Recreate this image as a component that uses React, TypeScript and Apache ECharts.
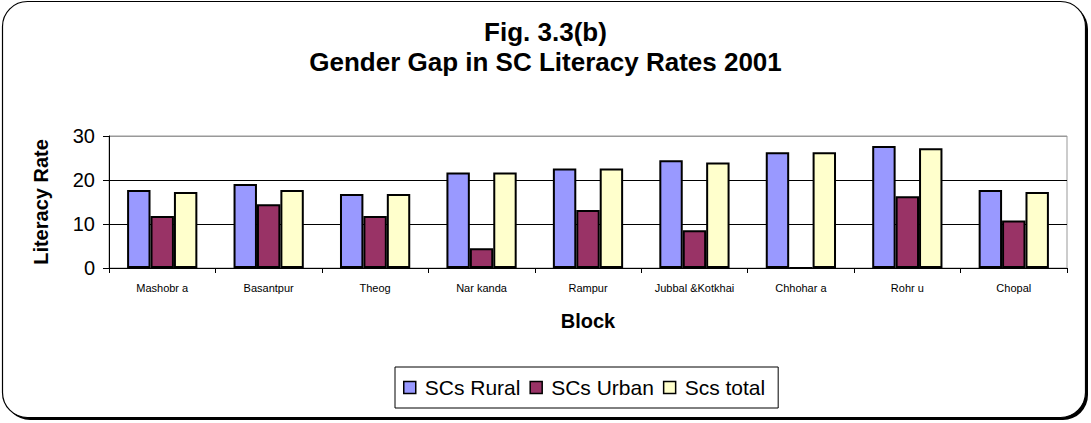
import React, { useEffect, useRef } from "react";
import * as echarts from "echarts";

const categories = [
  "Mashobr a",
  "Basantpur",
  "Theog",
  "Nar kanda",
  "Rampur",
  "Jubbal &Kotkhai",
  "Chhohar a",
  "Rohr u",
  "Chopal",
];
const scsRural = [17.7, 19.1, 16.8, 21.7, 22.6, 24.5, 26.3, 27.7, 17.7];
const scsUrban = [11.8, 14.5, 11.8, 4.5, 13.2, 8.6, 0, 16.3, 10.8];
const scsTotal = [17.3, 17.7, 16.8, 21.7, 22.6, 24.0, 26.3, 27.2, 17.3];
const yTicks = { min: 0, max: 30, interval: 10 };

const FONT = "'Liberation Sans', Arial, sans-serif";

export default function App() {
  const ref = useRef<HTMLDivElement>(null);
  useEffect(() => {
    document.body.style.margin = "0";
    const chart = echarts.init(ref.current!, undefined, { renderer: "svg" });
    const barStyle = (color: string) => ({
      color,
      borderColor: "#000",
      borderWidth: 2,
    });
    chart.setOption({
      animation: false,
      textStyle: { fontFamily: FONT },
      graphic: [
        {
          type: "rect",
          z: -10,
          shape: { x: 5, y: 4, width: 1083, height: 416, r: 25 },
          style: { fill: "#000" },
          silent: true,
        },
        {
          type: "rect",
          z: -9,
          shape: { x: 2.5, y: 1.5, width: 1083, height: 416, r: 25 },
          style: { fill: "#fff", stroke: "#000", lineWidth: 1.2 },
          silent: true,
        },
      ],
      title: [
        {
          text: "Fig. 3.3(b)",
          left: "center",
          top: 19,
          padding: 0,
          textStyle: { fontFamily: FONT, fontSize: 26, fontWeight: "bold", color: "#000" },
        },
        {
          text: "Gender Gap in SC Literacy Rates 2001",
          left: "center",
          top: 49,
          padding: 0,
          textStyle: { fontFamily: FONT, fontSize: 26, fontWeight: "bold", color: "#000" },
        },
      ],
      legend: {
        left: 395,
        top: 367,
        padding: [10, 13, 10, 8],
        itemGap: 9,
        itemWidth: 12,
        itemHeight: 12,
        icon: "rect",
        borderColor: "#000",
        borderWidth: 1,
        itemStyle: { borderColor: "#000", borderWidth: 1.5 },
        textStyle: { fontFamily: FONT, fontSize: 21, color: "#000", padding: [0, 0, 0, 4] },
        data: ["SCs Rural", "SCs Urban", "Scs total"],
      },
      grid: {
        left: 109,
        right: 24,
        top: 136,
        bottom: 155,
        show: true,
        borderColor: "#999",
        borderWidth: 1,
      },
      xAxis: {
        type: "category",
        data: categories,
        name: "Block",
        nameLocation: "middle",
        nameGap: 43,
        nameTextStyle: { fontFamily: FONT, fontSize: 20, fontWeight: "bold", color: "#000" },
        axisLine: { lineStyle: { color: "#000", width: 1 } },
        axisTick: { show: true, length: 5, lineStyle: { color: "#000" } },
        axisLabel: { fontFamily: FONT, fontSize: 11, color: "#000", margin: 14, interval: 0 },
      },
      yAxis: {
        type: "value",
        min: yTicks.min,
        max: yTicks.max,
        interval: yTicks.interval,
        name: "Literacy Rate",
        nameLocation: "middle",
        nameGap: 58,
        nameTextStyle: { fontFamily: FONT, fontSize: 20, fontWeight: "bold", color: "#000" },
        axisLine: { show: true, lineStyle: { color: "#000", width: 1 } },
        axisTick: { show: true, length: 6, lineStyle: { color: "#000" } },
        axisLabel: { fontFamily: FONT, fontSize: 20, color: "#000", margin: 14 },
        splitLine: { show: true, lineStyle: { color: ["#000", "#000", "#000", "#999"], width: 1 } },
      },
      series: [
        {
          name: "SCs Rural",
          type: "bar",
          data: scsRural,
          barGap: "0%",
          barCategoryGap: "34%",
          itemStyle: barStyle("#9999FF"),
        },
        {
          name: "SCs Urban",
          type: "bar",
          data: scsUrban,
          barGap: "0%",
          barCategoryGap: "34%",
          itemStyle: barStyle("#993366"),
        },
        {
          name: "Scs total",
          type: "bar",
          data: scsTotal,
          barGap: "0%",
          barCategoryGap: "34%",
          itemStyle: barStyle("#FFFFCC"),
        },
      ],
    });
    return () => chart.dispose();
  }, []);
  return <div ref={ref} style={{ width: 1091, height: 423 }} />;
}
